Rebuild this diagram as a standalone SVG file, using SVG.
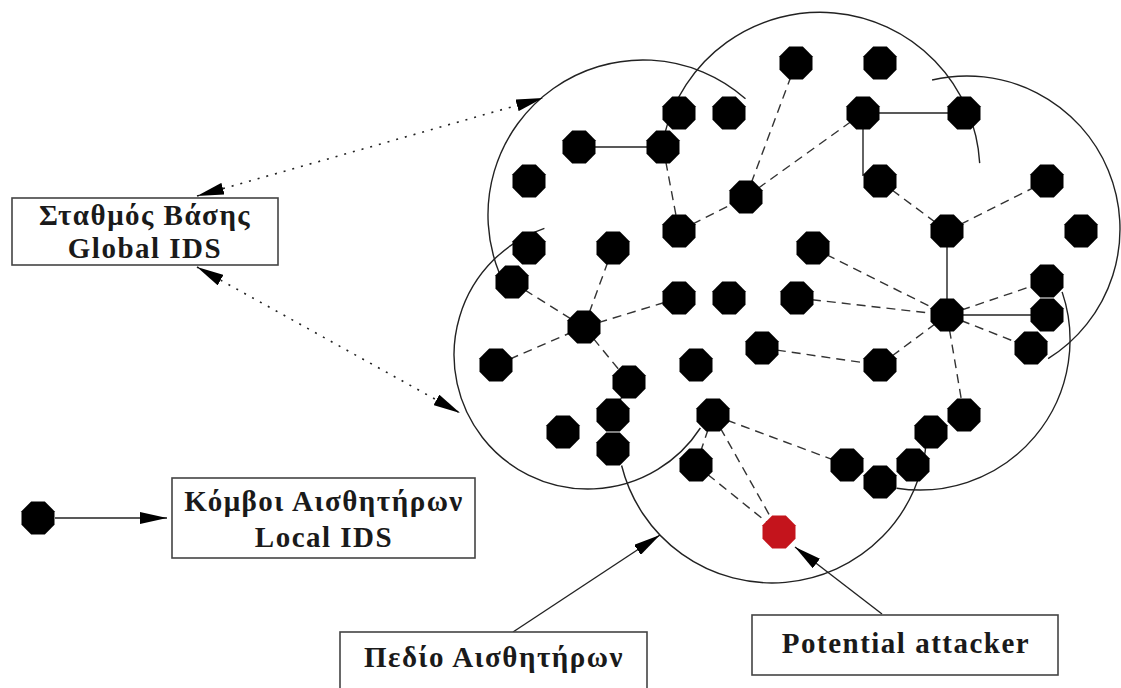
<svg xmlns="http://www.w3.org/2000/svg" xmlns:xlink="http://www.w3.org/1999/xlink" width="1121" height="688" viewBox="0 0 1121 688">
  <style>
    .range { fill: none; stroke: #222; stroke-width: 1.4; }
    .link { stroke: #222; stroke-width: 1.4; fill: none; }
    .dash { stroke: #333; stroke-width: 1.4; stroke-dasharray: 9 6; fill: none; }
    .dot { stroke: #222; stroke-width: 1.6; stroke-dasharray: 2 7; fill: none; }
    .ptr { stroke: #222; stroke-width: 1.4; fill: none; }
    .box { fill: #fff; stroke: #444; stroke-width: 1.6; }
    .lbl { font-family: "Liberation Serif", "DejaVu Serif", serif; font-weight: bold; font-size: 29px; letter-spacing: 1.5px; fill: #1a1a1a; text-anchor: middle; }
    .sensor { fill: #000; }
    .attacker { fill: #c4141c; }
  </style>
  <defs>
    <polygon id="oct" points="16.5,6.83 6.83,16.5 -6.83,16.5 -16.5,6.83 -16.5,-6.83 -6.83,-16.5 6.83,-16.5 16.5,-6.83"/>
    <marker id="head" viewBox="0 0 27 12" refX="27" refY="6" markerWidth="27" markerHeight="12" markerUnits="userSpaceOnUse" orient="auto-start-reverse">
      <path d="M0,0 L27,6 L0,12 z" fill="#000"/>
    </marker>
  </defs>

  <rect width="1121" height="688" fill="#fff"/>

  <!-- radio ranges of the sensor field -->
  <g id="ranges">
    <path class="range" d="M499.3,273.1 A155,155 0 0 1 745.5,98.7"/>
    <path class="range" d="M664.4,134.9 A160,160 0 0 1 979.7,163.1"/>
    <path class="range" d="M932.1,80 A153,153 0 0 1 1048.1,358.7"/>
    <path class="range" d="M544.4,228.3 A134,134 0 1 0 700.4,428"/>
    <path class="range" d="M621.6,465.5 A155,155 0 0 0 926.6,438.8"/>
    <path class="range" d="M1062.1,291.9 A150,150 0 0 1 896.8,488.2"/>
  </g>

  <!-- links between sensors -->
  <g id="connectors">
    <line class="link" x1="579" y1="147" x2="663" y2="147"/>
    <line class="link" x1="863" y1="113" x2="964" y2="113"/>
    <line class="link" x1="863" y1="113" x2="863" y2="176"/>
    <line class="link" x1="947" y1="231" x2="947" y2="315"/>
    <line class="link" x1="947" y1="315" x2="1047" y2="315"/>
    <line class="link" x1="629" y1="382" x2="613" y2="415"/>

    <line class="dash" x1="663" y1="147" x2="679" y2="231"/>
    <line class="dash" x1="679" y1="231" x2="746" y2="197"/>
    <line class="dash" x1="746" y1="197" x2="863" y2="113"/>
    <line class="dash" x1="746" y1="197" x2="796" y2="63"/>
    <line class="dash" x1="880" y1="181" x2="947" y2="231"/>
    <line class="dash" x1="947" y1="231" x2="1047" y2="181"/>
    <line class="dash" x1="512" y1="282" x2="584" y2="327"/>
    <line class="dash" x1="613" y1="248" x2="584" y2="327"/>
    <line class="dash" x1="584" y1="327" x2="679" y2="298"/>
    <line class="dash" x1="496" y1="365" x2="584" y2="327"/>
    <line class="dash" x1="584" y1="327" x2="629" y2="382"/>
    <line class="dash" x1="813" y1="248" x2="947" y2="315"/>
    <line class="dash" x1="797" y1="298" x2="947" y2="315"/>
    <line class="dash" x1="880" y1="365" x2="947" y2="315"/>
    <line class="dash" x1="762" y1="348" x2="880" y2="365"/>
    <line class="dash" x1="947" y1="315" x2="1047" y2="281"/>
    <line class="dash" x1="947" y1="315" x2="1031" y2="348"/>
    <line class="dash" x1="947" y1="315" x2="964" y2="415"/>
    <line class="dash" x1="713" y1="415" x2="696" y2="465"/>
    <line class="dash" x1="713" y1="415" x2="779" y2="532"/>
    <line class="dash" x1="696" y1="465" x2="779" y2="532"/>
    <line class="dash" x1="713" y1="415" x2="847" y2="465"/>

    <!-- base station links -->
    <line class="dot" x1="197" y1="196" x2="543" y2="98" marker-start="url(#head)" marker-end="url(#head)"/>
    <line class="dot" x1="197" y1="267" x2="460" y2="413" marker-start="url(#head)" marker-end="url(#head)"/>

    <!-- legend pointers -->
    <line class="ptr" x1="55" y1="518" x2="167" y2="518" marker-end="url(#head)"/>
    <line class="ptr" x1="513" y1="632" x2="660" y2="535" marker-end="url(#head)"/>
    <line class="ptr" x1="882" y1="614" x2="795" y2="547" marker-end="url(#head)"/>
  </g>

  <!-- sensor nodes -->
  <g id="n1"><use href="#oct" class="sensor" x="796" y="63"/></g>
  <g id="n2"><use href="#oct" class="sensor" x="880" y="63"/></g>
  <g id="n3"><use href="#oct" class="sensor" x="679" y="113"/></g>
  <g id="n4"><use href="#oct" class="sensor" x="729" y="113"/></g>
  <g id="n5"><use href="#oct" class="sensor" x="863" y="113"/></g>
  <g id="n6"><use href="#oct" class="sensor" x="964" y="113"/></g>
  <g id="n7"><use href="#oct" class="sensor" x="579" y="147"/></g>
  <g id="n8"><use href="#oct" class="sensor" x="663" y="147"/></g>
  <g id="n9"><use href="#oct" class="sensor" x="529" y="181"/></g>
  <g id="n10"><use href="#oct" class="sensor" x="880" y="181"/></g>
  <g id="n11"><use href="#oct" class="sensor" x="746" y="197"/></g>
  <g id="n12"><use href="#oct" class="sensor" x="1047" y="181"/></g>
  <g id="n13"><use href="#oct" class="sensor" x="679" y="231"/></g>
  <g id="n14"><use href="#oct" class="sensor" x="947" y="231"/></g>
  <g id="n15"><use href="#oct" class="sensor" x="1081" y="231"/></g>
  <g id="n16"><use href="#oct" class="sensor" x="529" y="248"/></g>
  <g id="n17"><use href="#oct" class="sensor" x="613" y="248"/></g>
  <g id="n18"><use href="#oct" class="sensor" x="813" y="248"/></g>
  <g id="n19"><use href="#oct" class="sensor" x="512" y="282"/></g>
  <g id="n20"><use href="#oct" class="sensor" x="1047" y="281"/></g>
  <g id="n21"><use href="#oct" class="sensor" x="679" y="298"/></g>
  <g id="n22"><use href="#oct" class="sensor" x="729" y="298"/></g>
  <g id="n23"><use href="#oct" class="sensor" x="797" y="298"/></g>
  <g id="n24"><use href="#oct" class="sensor" x="947" y="315"/></g>
  <g id="n25"><use href="#oct" class="sensor" x="1047" y="315"/></g>
  <g id="n26"><use href="#oct" class="sensor" x="584" y="327"/></g>
  <g id="n27"><use href="#oct" class="sensor" x="762" y="348"/></g>
  <g id="n28"><use href="#oct" class="sensor" x="1031" y="348"/></g>
  <g id="n29"><use href="#oct" class="sensor" x="496" y="365"/></g>
  <g id="n30"><use href="#oct" class="sensor" x="696" y="365"/></g>
  <g id="n31"><use href="#oct" class="sensor" x="880" y="365"/></g>
  <g id="n32"><use href="#oct" class="sensor" x="629" y="382"/></g>
  <g id="n33"><use href="#oct" class="sensor" x="613" y="415"/></g>
  <g id="n34"><use href="#oct" class="sensor" x="713" y="415"/></g>
  <g id="n35"><use href="#oct" class="sensor" x="964" y="415"/></g>
  <g id="n36"><use href="#oct" class="sensor" x="563" y="432"/></g>
  <g id="n37"><use href="#oct" class="sensor" x="931" y="432"/></g>
  <g id="n38"><use href="#oct" class="sensor" x="613" y="449"/></g>
  <g id="n39"><use href="#oct" class="sensor" x="696" y="465"/></g>
  <g id="n40"><use href="#oct" class="sensor" x="847" y="465"/></g>
  <g id="n41"><use href="#oct" class="sensor" x="913" y="465"/></g>
  <g id="n42"><use href="#oct" class="sensor" x="880" y="482"/></g>
  <g id="attacker"><use href="#oct" class="attacker" x="779" y="532"/></g>
  <g id="legend-node"><use href="#oct" class="sensor" x="38" y="518"/></g>

  <!-- labels -->
  <g id="base-station">
    <rect class="box" x="12" y="198" width="266" height="67"/>
    <text class="lbl" x="145" y="225">Σταθμός Βάσης</text>
    <text class="lbl" x="145" y="258">Global IDS</text>
  </g>
  <g id="sensor-legend">
    <rect class="box" x="172" y="478" width="303" height="80"/>
    <text class="lbl" x="324" y="511">Κόμβοι Αισθητήρων</text>
    <text class="lbl" x="324" y="547">Local IDS</text>
  </g>
  <g id="field-legend">
    <rect class="box" x="340" y="632" width="307" height="70"/>
    <text class="lbl" x="494" y="667">Πεδίο Αισθητήρων</text>
  </g>
  <g id="attacker-legend">
    <rect class="box" x="752" y="615" width="306" height="60"/>
    <text class="lbl" x="906" y="653">Potential attacker</text>
  </g>
</svg>
